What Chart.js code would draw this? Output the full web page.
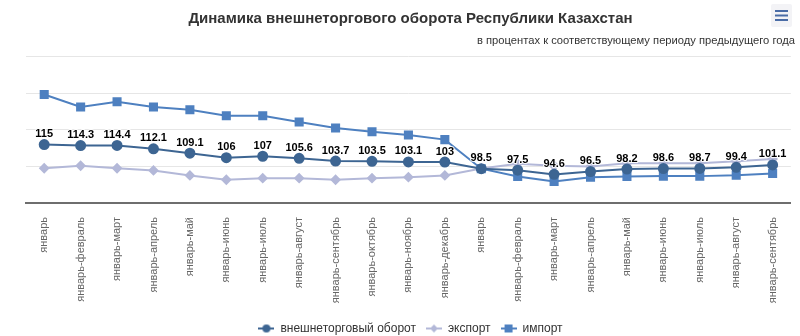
<!DOCTYPE html>
<html lang="ru">
<head>
  <meta charset="UTF-8" />
  <title>Динамика внешнеторгового оборота</title>
  <script src="https://cdn.jsdelivr.net/npm/chart.js"></script>
  <style>
    html, body { margin: 0; padding: 0; background: #fff; }
    #wrap { width: 800px; height: 336px; position: relative; }
  </style>
</head>
<body>
  <div id="wrap"><canvas id="trade-chart"></canvas></div>

  <script>
    // categories (two years of cumulative periods)
    const periods = [
      'январь', 'январь-февраль', 'январь-март', 'январь-апрель', 'январь-май', 'январь-июнь',
      'январь-июль', 'январь-август', 'январь-сентябрь', 'январь-октябрь', 'январь-ноябрь', 'январь-декабрь',
      'январь', 'январь-февраль', 'январь-март', 'январь-апрель', 'январь-май', 'январь-июнь',
      'январь-июль', 'январь-август', 'январь-сентябрь'
    ];

    // series, % к соответствующему периоду предыдущего года
    const turnover = [115, 114.3, 114.4, 112.1, 109.1, 106, 107, 105.6, 103.7, 103.5, 103.1, 103,
                      98.5, 97.5, 94.6, 96.5, 98.2, 98.6, 98.7, 99.4, 101.1];
    const exportVals = [98.8, 100.5, 98.8, 97.3, 93.9, 90.9, 92, 92, 90.9, 92, 92.7, 93.9,
                        98.6, 101.8, 100.5, 100, 102.2, 102.2, 102.2, 103.6, 105.2];
    const importVals = [149.3, 140.7, 144.3, 140.7, 138.8, 134.7, 134.7, 130.4, 126.4, 123.8, 121.6, 118.4,
                        98.5, 93.2, 89.8, 92.7, 93.2, 93.4, 93.4, 94, 95.2];

    const seriesNames = ['внешнеторговый оборот', 'экспорт', 'импорт'];
    const yTicks = { min: 75, max: 175, step: 25 };

    const colTurnover = '#3d6592';
    const colExport = '#b3b8d8';
    const colImport = '#4e80c0';

    Chart.defaults.font.family = '"Liberation Sans", Arial, sans-serif';

    // small line+marker icons for the legend
    function legendIcon(color, shape) {
      const c = document.createElement('canvas');
      c.width = 16; c.height = 10;
      const g = c.getContext('2d');
      g.strokeStyle = color; g.fillStyle = color; g.lineWidth = 2;
      g.beginPath(); g.moveTo(0, 5); g.lineTo(16, 5); g.stroke();
      g.beginPath();
      if (shape === 'circle') g.arc(8, 5, 4, 0, Math.PI * 2);
      else if (shape === 'diamond') { g.moveTo(8, 1); g.lineTo(12, 5); g.lineTo(8, 9); g.lineTo(4, 5); g.closePath(); }
      else g.rect(4, 1, 8, 8);
      g.fill();
      return c;
    }

    // value labels above the turnover line
    const valueLabels = {
      id: 'valueLabels',
      afterDatasetsDraw(chart) {
        const meta = chart.getDatasetMeta(0);
        const ctx = chart.ctx;
        ctx.save();
        ctx.font = 'bold 11px "Liberation Sans", Arial, sans-serif';
        ctx.textAlign = 'center';
        ctx.textBaseline = 'bottom';
        ctx.lineJoin = 'round';
        meta.data.forEach((pt, i) => {
          const txt = String(turnover[i]);
          ctx.strokeStyle = 'rgba(255,255,255,0.9)';
          ctx.lineWidth = 2;
          ctx.strokeText(txt, pt.x, pt.y - 5);
          ctx.fillStyle = '#000';
          ctx.fillText(txt, pt.x, pt.y - 5);
        });
        ctx.restore();
      }
    };

    // the little menu button in the top-right corner
    const menuButton = {
      id: 'menuButton',
      afterDraw(chart) {
        const ctx = chart.ctx;
        ctx.save();
        ctx.fillStyle = '#f3f3f6';
        ctx.beginPath();
        ctx.roundRect(771, 4, 21, 23, 2);
        ctx.fill();
        ctx.strokeStyle = '#4a6ca6';
        ctx.lineWidth = 2;
        [11, 15.5, 20].forEach(y => {
          ctx.beginPath(); ctx.moveTo(775, y); ctx.lineTo(788, y); ctx.stroke();
        });
        ctx.restore();
      }
    };

    new Chart(document.getElementById('trade-chart'), {
      type: 'line',
      data: {
        labels: periods,
        datasets: [
          { label: seriesNames[0], data: turnover, borderColor: colTurnover, backgroundColor: colTurnover,
            borderWidth: 2, pointStyle: 'circle', pointRadius: 4.5, pointHoverRadius: 4.5, order: 0 },
          { label: seriesNames[1], data: exportVals, borderColor: colExport, backgroundColor: colExport,
            borderWidth: 2, pointStyle: 'rectRot', pointRadius: 4, pointHoverRadius: 4, order: 2 },
          { label: seriesNames[2], data: importVals, borderColor: colImport, backgroundColor: colImport,
            borderWidth: 2, pointStyle: 'rect', pointRadius: 5, pointHoverRadius: 5, order: 1 }
        ]
      },
      options: {
        responsive: true,
        maintainAspectRatio: false,
        animation: false,
        layout: { padding: { left: 26, right: 5, top: 0, bottom: -8.5 } },
        scales: {
          x: {
            offset: true,
            grid: { display: false, drawTicks: false },
            border: { display: true, color: '#6e6e6e', width: 2 },
            ticks: { autoSkip: false, maxRotation: 90, minRotation: 90, padding: 14,
                     color: '#666', font: { size: 11 } },
            afterFit(scale) { scale.height = 109.5; }
          },
          y: {
            min: yTicks.min, max: yTicks.max,
            grid: { color: '#e6e6e6', drawTicks: false },
            border: { display: false },
            ticks: { display: false, stepSize: yTicks.step }
          }
        },
        plugins: {
          title: {
            display: true,
            text: 'Динамика внешнеторгового оборота Республики Казахстан',
            color: '#333',
            font: { size: 15, weight: 'bold' },
            padding: { top: 9.5, bottom: 0 }
          },
          subtitle: {
            display: true,
            align: 'end',
            text: 'в процентах к соответствующему периоду предыдущего года',
            color: '#333',
            font: { size: 11.2 },
            padding: { top: 7, bottom: 9 }
          },
          legend: {
            position: 'bottom',
            labels: {
              usePointStyle: true,
              pointStyleWidth: 16,
              padding: 10,
              color: '#333',
              font: { size: 12 },
              generateLabels(chart) {
                const shapes = ['circle', 'diamond', 'rect'];
                const cols = [colTurnover, colExport, colImport];
                return seriesNames.map((name, i) => ({
                  text: name,
                  datasetIndex: i,
                  fillStyle: cols[i],
                  strokeStyle: cols[i],
                  fontColor: '#333',
                  lineWidth: 0,
                  hidden: !chart.isDatasetVisible(i),
                  pointStyle: legendIcon(cols[i], shapes[i])
                }));
              }
            }
          },
          tooltip: { enabled: false }
        }
      },
      plugins: [valueLabels, menuButton]
    });
  </script>
</body>
</html>
